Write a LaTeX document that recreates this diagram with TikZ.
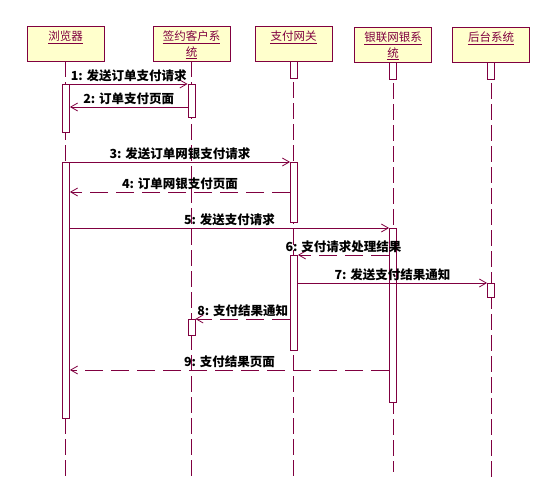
\documentclass[tikz,border=0pt]{standalone}
\usepackage{fontspec}
\setmainfont{Noto Sans CJK SC}
\usetikzlibrary{arrows.meta,positioning}
\definecolor{umlred}{RGB}{128,0,64}
\definecolor{umlfill}{RGB}{255,255,204}
\tikzset{
  head/.style={draw=umlred,fill=umlfill,line width=0.8pt,minimum width=77pt,minimum height=35pt,inner sep=0pt},
  htxt/.style={text=umlred,font=\fontsize{11.5}{15}\selectfont,inner sep=0pt,anchor=base},
  uln/.style={umlred,line width=0.7pt},
  life/.style={umlred,line width=0.8pt,dash pattern=on 16pt off 5pt},
  bar/.style={draw=umlred,fill=white,line width=0.8pt,minimum width=7pt,inner sep=0pt,anchor=north},
  msg/.style={umlred,line width=0.8pt,-{Straight Barb[length=7pt,width=8pt]}},
  ret/.style={msg,dash pattern=on 18pt off 8pt},
  lbl/.style={text=black,font=\bfseries\fontsize{12.5}{14}\selectfont,inner sep=1.5pt,above}
}

\begin{document}
\begin{tikzpicture}[x=1pt,y=-1pt]
\useasboundingbox (0,0) rectangle (549,486);
% heads
\node[head] (brw) at (65.5,43.5) {};
\node[head] (cli) at (191.5,43.5) {};
\node[head] (gw) at (293.5,43.5) {};
\node[head] (ub) at (393,44.5) {};
\node[head] (bk) at (491,44.5) {};
\node[htxt] (brwT) at ([yshift=-15pt]brw.north) {浏览器};
\node[htxt] (cliT) at ([yshift=-15pt]cli.north) {签约客户系};
\node[htxt] (cliT2) at ([yshift=-15.5pt]cliT.base) {统};
\node[htxt] (gwT) at ([yshift=-15pt]gw.north) {支付网关};
\node[htxt] (ubT) at ([yshift=-15pt]ub.north) {银联网银系};
\node[htxt] (ubT2) at ([yshift=-15.5pt]ubT.base) {统};
\node[htxt] (bkT) at ([yshift=-15pt]bk.north) {后台系统};
\foreach \t in {brwT,cliT,cliT2,gwT,ubT,ubT2,bkT}
  \draw[uln] ([yshift=-2.5pt]\t.base west) -- ([yshift=-2.5pt]\t.base east);
\coordinate (bot) at (0,477);
\coordinate (botub) at (0,472);
% lifelines
\draw[life] (brw.south) -- (brw.south |- bot);
\draw[life] (cli.south) -- (cli.south |- bot);
\draw[life] (gw.south) -- (gw.south |- bot);
\draw[life] (ub.south) -- (ub.south |- botub);
\draw[life] (bk.south) -- (bk.south |- bot);
% activations
\node[bar,minimum height=17pt] (gwO) at (gw.south) {};
\node[bar,minimum height=17pt] (ubO) at (ub.south) {};
\node[bar,minimum height=17pt] (bkO) at (bk.south) {};
\node[bar,minimum height=48pt] (brwA) at (66,84) {};
\node[bar,minimum height=256pt] (brwB) at (66,162) {};
\node[bar,minimum height=33pt] (cliA) at (191.5,84) {};
\node[bar,minimum height=16pt] (cliB) at (191.5,319) {};
\node[bar,minimum height=60pt] (gwA) at (294,162) {};
\node[bar,minimum height=95pt] (gwB) at (294,255) {};
\node[bar,minimum height=174pt] (ubA) at (393,228) {};
\node[bar,minimum height=14pt] (bkA) at (491,283) {};
% messages
\coordinate (m2) at (0,107);
\coordinate (m4) at (0,192);
\coordinate (m9) at (0,370);
\draw[msg] (brwA.north east) -- node[lbl] {1: 发送订单支付请求} (cliA.north west);
\draw[msg] (cliA.west |- m2) -- node[lbl] {2: 订单支付页面} (brwA.east |- m2);
\draw[msg] (brwB.north east) -- node[lbl] {3: 发送订单网银支付请求} (gwA.north west);
\draw[ret] (gwA.west |- m4) -- node[lbl] {4: 订单网银支付页面} (brwB.east |- m4);
\draw[msg] (brwB.east |- ubA.north) -- node[lbl] {5: 发送支付请求} (ubA.north west);
\draw[ret] (ubA.west |- gwB.north) -- node[lbl] {6: 支付请求处理结果} (gwB.north east);
\draw[msg] (gwB.east |- bkA.north) -- node[lbl] {7: 发送支付结果通知} (bkA.north west);
\draw[ret] (gwB.west |- cliB.north) -- node[lbl] {8: 支付结果通知} (cliB.north east);
\draw[ret] (ubA.west |- m9) -- node[lbl] {9: 支付结果页面} (brwB.east |- m9);
\end{tikzpicture}
\end{document}
